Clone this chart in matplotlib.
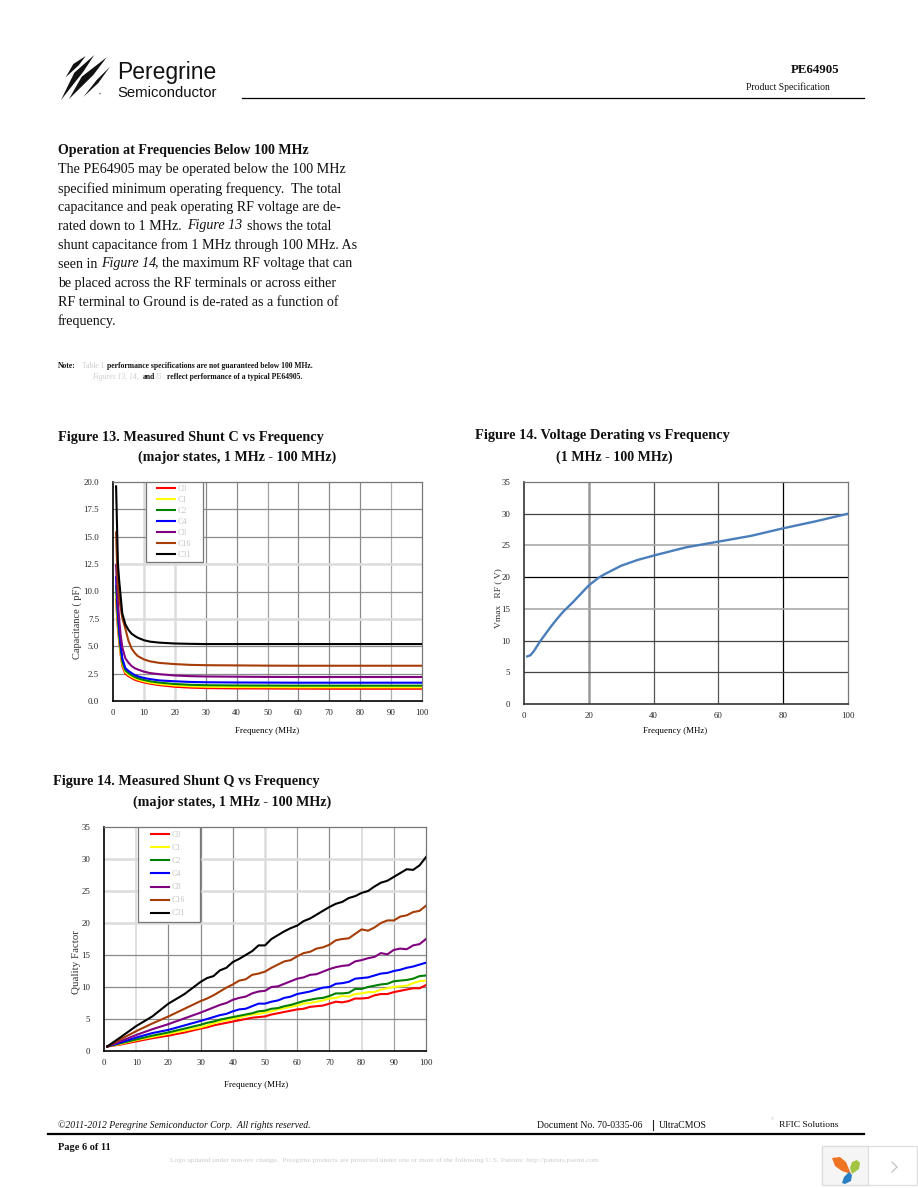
import numpy as np
from matplotlib import pyplot as plt
from matplotlib.patches import Circle, Polygon, Rectangle

plt.rcParams['font.family'] = ['Liberation Serif', 'DejaVu Serif']

W = 918
H = 1188

state_names = ['C0', 'C1', 'C2', 'C4', 'C8', 'C16', 'C31']
state_colors = ['#ff0000', '#ffff00', '#008000', '#0000ff', '#800080', '#a63c06', '#000000']

# Figure 13, shunt capacitance (pF)
c_freq = [1, 1.3, 1.6, 2, 2.5, 3, 4, 5, 6, 7, 8, 10, 12, 15, 20, 25, 30, 40, 50, 60, 70, 80, 90, 100]
c_c0 = [9.3, 7.8, 6.6, 5.4, 4.2, 3.2, 2.5, 2.27, 2.1, 1.95, 1.85, 1.7, 1.58, 1.45, 1.3, 1.22, 1.18, 1.15, 1.14, 1.13, 1.12, 1.12, 1.12, 1.12]
c_c1 = [9.8, 8.2, 7, 5.7, 4.4, 3.4, 2.65, 2.4, 2.22, 2.07, 1.96, 1.8, 1.68, 1.55, 1.42, 1.34, 1.3, 1.27, 1.26, 1.25, 1.25, 1.25, 1.25, 1.25]
c_c2 = [10.5, 8.8, 7.4, 6, 4.7, 3.6, 2.8, 2.55, 2.36, 2.2, 2.08, 1.92, 1.8, 1.68, 1.55, 1.48, 1.44, 1.42, 1.41, 1.4, 1.4, 1.4, 1.4, 1.4]
c_c4 = [11.3, 9.5, 8, 6.5, 5.1, 3.9, 3.0, 2.75, 2.55, 2.38, 2.26, 2.1, 2, 1.88, 1.8, 1.74, 1.71, 1.69, 1.68, 1.67, 1.67, 1.67, 1.67, 1.67]
c_c8 = [12.4, 10.5, 9, 7.4, 6, 4.9, 3.9, 3.5, 3.2, 3.0, 2.88, 2.68, 2.55, 2.45, 2.33, 2.27, 2.24, 2.22, 2.2, 2.19, 2.19, 2.19, 2.19, 2.19]
c_c16 = [15.4, 12.5, 10.5, 9.3, 8.5, 7.6, 6.6, 5.5, 4.8, 4.4, 4.1, 3.8, 3.62, 3.48, 3.37, 3.3, 3.27, 3.25, 3.23, 3.22, 3.22, 3.22, 3.22, 3.22]
c_c31 = [19.6, 16, 12.5, 11, 9.5, 8.0, 7.0, 6.5, 6.15, 5.95, 5.78, 5.55, 5.42, 5.33, 5.25, 5.22, 5.2, 5.2, 5.2, 5.2, 5.2, 5.2, 5.2, 5.2]
cap_series = [c_c0, c_c1, c_c2, c_c4, c_c8, c_c16, c_c31]

# Figure 14, voltage derating (V)
v_freq = [1, 2, 3, 5, 8, 10, 12, 15, 20, 23, 25, 30, 35, 40, 50, 60, 70, 80, 90, 100]
v_max = [7.5, 7.7, 8.3, 9.9, 12, 13.3, 14.5, 16, 18.7, 19.9, 20.5, 21.8, 22.7, 23.4, 24.7, 25.6, 26.5, 27.7, 28.8, 30]

# Figure 14 (second one on the page), Q factor
q_freq = [1, 5, 10, 15, 20, 25, 30, 32, 34, 36, 38, 40, 42, 44, 46, 48, 50, 52, 54, 56, 58, 60, 62, 64, 66, 68, 70,
          72, 74, 76, 78, 80, 82, 84, 86, 88, 90, 92, 94, 96, 98, 100]
q_c0 = [.7, 1, 1.5, 2, 2.4, 2.9, 3.5, 3.7, 4, 4.2, 4.4, 4.6, 4.8, 5, 5.2, 5.3, 5.4, 5.7, 5.9, 6.1, 6.3, 6.5, 6.6, 6.9, 7, 7.1, 7.4,
        7.7, 7.6, 7.8, 8.2, 8.2, 8.3, 8.7, 8.9, 8.9, 9.2, 9.4, 9.6, 9.8, 9.8, 10.3]
q_c1 = [.7, 1.1, 1.7, 2.2, 2.7, 3.2, 3.7, 4, 4.3, 4.6, 4.8, 5, 5.2, 5.5, 5.7, 5.8, 6, 6.2, 6.5, 6.7, 6.9, 7.1, 7.4, 7.5, 7.7, 7.9, 8.2,
        8.3, 8.6, 8.5, 8.9, 9, 9.2, 9.2, 9.6, 9.8, 10, 10.1, 10.2, 10.6, 10.9, 11]
q_c2 = [.7, 1.2, 1.8, 2.4, 2.9, 3.5, 4.1, 4.4, 4.6, 4.9, 5.1, 5.3, 5.5, 5.7, 5.9, 6.2, 6.3, 6.6, 6.7, 7, 7.2, 7.5, 7.8, 8, 8.2, 8.3, 8.6,
        9, 9, 9.1, 9.7, 9.7, 10, 10.2, 10.4, 10.5, 10.9, 11, 11.1, 11.3, 11.7, 11.8]
q_c4 = [.7, 1.3, 2.1, 2.8, 3.3, 4, 4.7, 5.0, 5.3, 5.6, 5.8, 6.2, 6.5, 6.6, 7, 7.4, 7.4, 7.7, 7.9, 8.3, 8.5, 8.9, 9.1, 9.3, 9.6, 9.9, 10,
        10.5, 10.6, 10.8, 11.3, 11.4, 11.5, 11.8, 12.1, 12.2, 12.5, 12.7, 13, 13.2, 13.5, 13.8]
q_c8 = [.7, 1.5, 2.5, 3.4, 4.2, 5.1, 6, 6.4, 6.8, 7.2, 7.5, 8, 8.3, 8.5, 9, 9.3, 9.4, 10, 10.1, 10.5, 10.9, 11.3, 11.5, 11.9, 12, 12.4, 12.8,
        13.1, 13.3, 13.4, 14, 14.2, 14.5, 14.7, 15.3, 15.1, 15.8, 16, 15.9, 16.5, 16.7, 17.5]
q_c16 = [.7, 1.8, 3.1, 4.3, 5.4, 6.6, 7.8, 8.2, 8.7, 9.3, 9.9, 10.4, 11, 11.2, 11.9, 12.1, 12.4, 13, 13.5, 14, 14.2, 14.8, 15.3, 15.5, 16, 16.2, 16.6,
         17.3, 17.5, 17.6, 18.3, 19, 18.8, 19.3, 20, 20.4, 20.4, 21, 21.2, 21.7, 21.9, 22.7]
q_c31 = [.7, 2.1, 3.9, 5.4, 7.4, 8.9, 10.8, 11.4, 11.7, 12.6, 13, 13.9, 14.4, 15, 15.6, 16.5, 16.5, 17.5, 18.1, 18.7, 19.2, 19.6, 20.3, 20.7, 21.3, 21.9, 22.5,
         23, 23.3, 23.9, 24.2, 24.7, 25, 25.7, 26.3, 26.6, 27.2, 27.8, 28.4, 28.3, 29, 30.3]
q_series = [q_c0, q_c1, q_c2, q_c4, q_c8, q_c16, q_c31]

DARK = '#8a8a8a'
LIGHT = '#dcdcdc'


def make_axes(fig, left, top, right, bottom):
    return fig.add_axes([left / W, 1 - bottom / H, (right - left) / W, (bottom - top) / H])


def draw_grid(ax, xs, ys):
    # the scan makes every grid line look a bit different, so each gets its own style
    for x, col, lw in xs:
        ax.axvline(x, color=col, lw=lw, zorder=1)
    for y, col, lw in ys:
        ax.axhline(y, color=col, lw=lw, zorder=1)


def style_axes(ax, xticks, yticks, yfmt, spine_col):
    ax.set_xticks(xticks)
    ax.set_yticks(yticks)
    ax.set_yticklabels([yfmt % t for t in yticks])
    ax.tick_params(length=0, labelsize=6.3, colors='#222222')
    ax.tick_params(axis='x', pad=6)
    ax.tick_params(axis='y', pad=10)
    for side in ['top', 'right']:
        ax.spines[side].set_color('#777777')
        ax.spines[side].set_linewidth(0.9)
    for side in ['left', 'bottom']:
        ax.spines[side].set_color(spine_col)
        ax.spines[side].set_linewidth(1.2)


def state_legend(ax, box, anchor, spacing):
    # frame is a separate patch, the original box is wider than its entries
    x0, y0, x1, y1 = box
    ax.add_patch(Rectangle((x0, y0), x1 - x0, y1 - y0, facecolor='white', edgecolor='#777777', lw=0.9, zorder=4))
    leg = ax.legend(loc='upper left', bbox_to_anchor=anchor, borderaxespad=0, borderpad=0, fontsize=5.8, frameon=False,
                    labelspacing=spacing, handlelength=2.25, handletextpad=0.25, labelcolor='#c4c4c4')
    leg.set_zorder(5)


fig = plt.figure(figsize=(W / 100, H / 100), dpi=100)

# page layer in pixel coordinates
page = fig.add_axes([0, 0, 1, 1])
page.set_xlim(0, W)
page.set_ylim(H, 0)
page.axis('off')


def txt(x, y, s, size=10, **kw):
    page.text(x, y, s, fontsize=size, va='center', color=kw.pop('color', '#111111'), **kw)


# logo
feathers = [
    [(65.7, 77.3), (73.3, 64), (85.7, 56), (79, 65)],
    [(61, 100), (74.3, 72.7), (94.3, 55), (83.3, 71.7)],
    [(69, 99), (81.7, 76.7), (106.7, 57.3), (93.3, 75)],
    [(83.3, 97), (96.7, 80), (110, 66.7), (98.3, 83)],
]
for pts in feathers:
    page.add_patch(Polygon(pts, closed=True, color='#111111', lw=0))
page.add_patch(Circle((100, 93.5), 0.8, color='#777777', lw=0))
txt(117, 72, 'Peregrine', size=16.5, family='Liberation Sans')
txt(117, 93, 'Semiconductor', size=10.7, family='Liberation Sans')

# header
txt(791, 70, 'PE64905', size=9.3, weight='bold')
txt(746, 87, 'Product Specification', size=6.9)
page.plot([242, 864], [97.5, 97.5], color='black', lw=0.9)

# body text
txt(58, 150.5, 'Operation at Frequencies Below 100 MHz', size=10.1, weight='bold')
body = [
    (169, 'The PE64905 may be operated below the 100 MHz'),
    (189, 'specified minimum operating frequency.  The total'),
    (207, 'capacitance and peak operating RF voltage are de-'),
    (245, 'shunt capacitance from 1 MHz through 100 MHz. As'),
    (283, 'be placed across the RF terminals or across either'),
    (302, 'RF terminal to Ground is de-rated as a function of'),
    (321, 'frequency.'),
]
for y, line in body:
    txt(58, y, line, size=10.1)
txt(58, 226, 'rated down to 1 MHz.', size=10.1)
txt(187, 226, 'Figure 13', size=10.1, style='italic')
txt(247, 226, 'shows the total', size=10.1)
txt(58, 264, 'seen in', size=10.1)
txt(101, 264, 'Figure 14', size=10.1, style='italic')
txt(155, 264, ', the maximum RF voltage that can', size=10.1)

# note
txt(58, 366, 'Note:', size=5.5, weight='bold')
txt(82, 366, 'Table 1', size=5.5, color='#cccccc')
txt(107, 366, 'performance specifications are not guaranteed below 100 MHz.', size=5.5, weight='bold')
txt(92, 377, 'Figures 13, 14,', size=5.5, color='#cccccc', style='italic')
txt(143, 377, 'and', size=5.5, weight='bold')
txt(155, 377, '15', size=5.5, color='#cccccc', style='italic')
txt(167, 377, 'reflect performance of a typical PE64905.', size=5.5, weight='bold')

# figure titles
txt(58, 437, 'Figure 13. Measured Shunt C vs Frequency', size=10.3, weight='bold')
txt(138, 457, '(major states, 1 MHz - 100 MHz)', size=10.15, weight='bold')
txt(475, 436, 'Figure 14. Voltage Derating vs Frequency', size=10.35, weight='bold')
txt(556, 457, '(1 MHz - 100 MHz)', size=10.1, weight='bold')
txt(53, 782, 'Figure 14. Measured Shunt Q vs Frequency', size=10.3, weight='bold')
txt(133, 802, '(major states, 1 MHz - 100 MHz)', size=10.15, weight='bold')

# footer
txt(58, 1125, '©2011-2012 Peregrine Semiconductor Corp.  All rights reserved.', size=6.95, style='italic')
txt(537, 1125, 'Document No. 70-0335-06', size=7)
page.plot([652.5, 652.5], [1120, 1130], color='#222222', lw=0.8)
txt(659, 1125, 'UltraCMOS', size=7)
txt(771, 1119, '®', size=3, color='#bbbbbb')
txt(779, 1125, 'RFIC Solutions', size=6.8)
page.plot([48, 864], [1134, 1134], color='black', lw=1.6)
txt(58, 1147, 'Page 6 of 11', size=7.5, weight='bold')
txt(170, 1160, 'Logo updated under non-rev change.  Peregrine products are protected under one or more of the following U.S. Patents: http://patents.psemi.com',
    size=5.3, color='#cccccc')

# corner widget
page.add_patch(Rectangle((822, 1146), 95, 39, facecolor='white', edgecolor='#dddddd', lw=0.9))
page.add_patch(Rectangle((822, 1146), 46, 39, facecolor='#f5f5f5', edgecolor='#dddddd', lw=0.9))
page.add_patch(Polygon([(832, 1158), (840, 1157), (846, 1162), (851, 1174), (842, 1171), (835, 1166)], color='#ee7322', lw=0))
page.add_patch(Polygon([(857, 1160), (860, 1163), (859, 1169), (852, 1174), (850, 1168), (852, 1162)], color='#a3c442', lw=0))
page.add_patch(Polygon([(849, 1172), (852, 1175), (851, 1181), (845, 1184), (842, 1183), (844, 1177)], color='#2a7fc4', lw=0))
page.plot([892, 897, 892], [1162, 1167, 1172], color='#bbbbbb', lw=0.8)

# Figure 13
ax1 = make_axes(fig, 113, 482, 422, 701)
ax1.set_xlim(0, 100)
ax1.set_ylim(0, 20)
draw_grid(ax1,
          [(10, LIGHT, 1.8), (20, LIGHT, 1.8), (30, DARK, 0.9), (40, DARK, 0.9), (50, '#a0a0a0', 0.9),
           (60, DARK, 0.9), (70, DARK, 0.9), (80, DARK, 0.9), (90, '#b0b0b0', 0.9)],
          [(2.5, DARK, 0.9), (5, DARK, 0.9), (7.5, LIGHT, 1.8), (10, DARK, 0.9), (12.5, LIGHT, 1.8),
           (15, DARK, 0.9), (17.5, DARK, 0.9)])
for vals, col, name in zip(cap_series, state_colors, state_names):
    ax1.plot(c_freq, vals, color=col, lw=1.5, label=name, zorder=3)
style_axes(ax1, np.arange(0, 101, 10), np.arange(0, 20.1, 2.5), '%.1f', 'black')
ax1.set_xlabel('Frequency (MHz)', fontsize=6.4, labelpad=7)
ax1.set_ylabel('Capacitance ( pF)', fontsize=7.5, labelpad=1, color='#333333', y=0.36)
state_legend(ax1, (10.7, 12.7, 29.1, 20), (0.1424, 0.986), 0.37)

# Figure 14, voltage
ax2 = make_axes(fig, 524, 482, 848, 704)
ax2.set_xlim(0, 100)
ax2.set_ylim(0, 35)
draw_grid(ax2,
          [(20, '#9a9a9a', 1.8), (40, '#555555', 0.9), (60, '#555555', 0.9), (80, '#000000', 0.9)],
          [(5, '#444444', 0.9), (10, '#444444', 0.9), (15, '#aaaaaa', 1.2), (20, '#000000', 0.9),
           (25, '#aaaaaa', 1.2), (30, '#444444', 0.9)])
ax2.plot(v_freq, v_max, color='#4a7ebb', lw=1.7, zorder=3)
style_axes(ax2, np.arange(0, 101, 20), np.arange(0, 36, 5), '%d', '#333333')
ax2.set_xlabel('Frequency (MHz)', fontsize=6.4, labelpad=5, x=0.466)
ax2.set_ylabel('Vmax   RF ( V)', fontsize=6.8, labelpad=-1, color='#333333', y=0.477)

# Figure 14, Q
ax3 = make_axes(fig, 104, 827, 426, 1051)
ax3.set_xlim(0, 100)
ax3.set_ylim(0, 35)
draw_grid(ax3,
          [(10, LIGHT, 1.3), (20, DARK, 0.9), (30, DARK, 0.9), (40, DARK, 0.9), (50, LIGHT, 1.8),
           (60, '#a0a0a0', 0.9), (70, DARK, 0.9), (80, LIGHT, 1.3), (90, '#a0a0a0', 0.9)],
          [(5, DARK, 0.9), (10, DARK, 0.9), (15, DARK, 0.9), (20, LIGHT, 1.8), (25, LIGHT, 1.8), (30, LIGHT, 1.8)])
for vals, col, name in zip(q_series, state_colors, state_names):
    ax3.plot(q_freq, vals, color=col, lw=1.5, label=name, zorder=3)
style_axes(ax3, np.arange(0, 101, 10), np.arange(0, 36, 5), '%d', 'black')
ax3.set_xlabel('Frequency (MHz)', fontsize=6.4, labelpad=10, x=0.472)
ax3.set_ylabel('Quality Factor', fontsize=7.8, labelpad=0, color='#333333', y=0.397)
state_legend(ax3, (10.6, 20.1, 29.8, 35), (0.146, 0.982), 0.63)

fig.savefig('out.png', dpi=100)
